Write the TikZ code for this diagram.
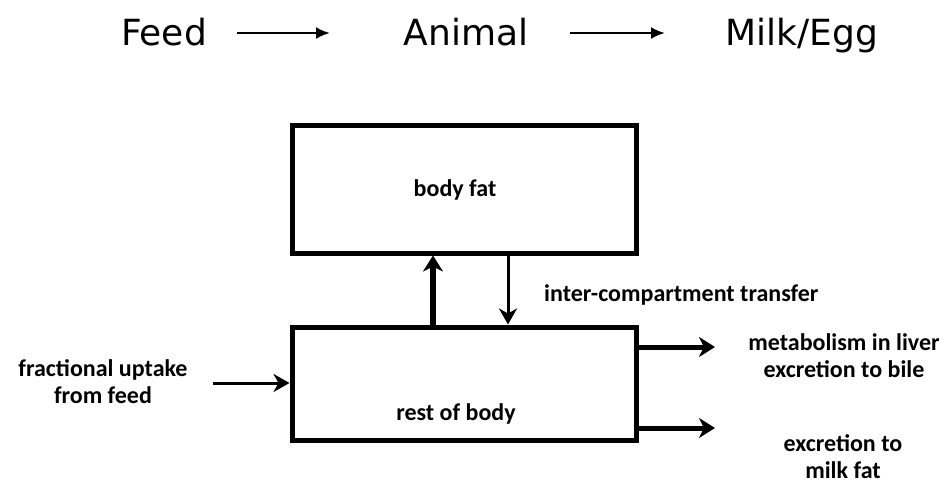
\documentclass[tikz,border=0pt]{standalone}
\usepackage{fontspec}
\setmainfont{Carlito}
\newfontfamily\verd{DejaVu Sans}
\usetikzlibrary{arrows.meta}
\begin{document}
\begin{tikzpicture}[x=1pt,y=-1pt,
  box/.style={draw, line width=5pt, inner sep=0pt},
  toptext/.style={font=\verd\fontsize{36}{40}\selectfont, anchor=base, inner sep=0pt},
  lbl/.style={font=\bfseries\fontsize{24}{27}\selectfont, align=center, inner sep=0pt},
  toparrow/.style={-{Latex[length=14pt,width=12pt]}, line width=2.5pt},
  thick arrow/.style={-{Stealth[length=16pt,width=20pt,inset=5pt]}, line width=5pt},
  thin arrow/.style={-{Stealth[length=16pt,width=18pt,inset=5pt]}, line width=3pt}]
\useasboundingbox (0,0) rectangle (946,485);
% top row
\node[toptext] (feed) at (164,45) {Feed};
\node[toptext] (animal) at (466,45) {Animal};
\node[toptext] (milk) at (802,45) {Milk/Egg};
\coordinate (a1s) at (237,33); \coordinate (a1e) at (330,33);
\coordinate (a2s) at (570,33); \coordinate (a2e) at (665,33);
\draw[toparrow] (a1s) -- (a1e);
\draw[toparrow] (a2s) -- (a2e);
% boxes
\node[box, minimum width=344pt, minimum height=128pt] (fat) at (464,189) {};
\node[lbl] (fattext) at (455,190) {body fat};
\node[box, minimum width=344pt, minimum height=113pt] (rest) at (464,383.5) {};
\node[lbl] (resttext) at (456,414) {rest of body};
% vertical arrows
\draw[thick arrow, line width=6pt] (rest.north -| 433,0) -- (fat.south -| 433,0);
\draw[thin arrow] (fat.south -| 508,0) -- (rest.north -| 508,0);
\node[lbl, anchor=west] (inter) at (544,295) {inter-compartment transfer};
% left input
\node[lbl] (frac) at (103,382) {fractional uptake\\from feed};
\coordinate (fin) at (213,383);
\draw[thin arrow] (fin) -- (rest.west |- fin);
% right outputs
\coordinate (o1) at (715,347);
\coordinate (o2) at (715,428);
\draw[thick arrow] (rest.east |- o1) -- (o1);
\draw[thick arrow] (rest.east |- o2) -- (o2);
\node[lbl] (met) at (844,356) {metabolism in liver\\excretion to bile};
\node[lbl] (exc) at (843,457) {excretion to\\milk fat};
\end{tikzpicture}
\end{document}
